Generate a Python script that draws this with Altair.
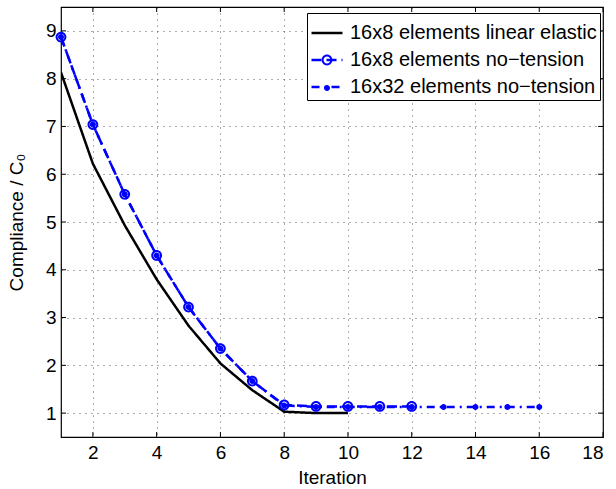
import altair as alt
import pandas as pd

series_names = ["16x8 elements linear elastic", "16x8 elements no\u2212tension", "16x32 elements no\u2212tension"]
marker_keys = ["m0", "m1", "m2"]

iter_le = [1, 2, 3, 4, 5, 6, 7, 8, 9, 10]
val_le = [8.13, 6.22, 4.93, 3.80, 2.83, 2.04, 1.48, 1.03, 1.00, 1.00]

iter_nt8 = [1, 2, 3, 4, 5, 6, 7, 8, 9, 10, 11, 12]
val_nt8 = [8.87, 7.04, 5.58, 4.30, 3.22, 2.35, 1.67, 1.17, 1.14, 1.14, 1.14, 1.14]

iter_nt32 = [1, 2, 3, 4, 5, 6, 7, 8, 9, 10, 11, 12, 13, 14, 15, 16]
val_nt32 = [8.87, 7.04, 5.58, 4.30, 3.22, 2.35, 1.67, 1.16, 1.13, 1.13, 1.13, 1.13, 1.13, 1.13, 1.13, 1.13]

x_ticks = [2, 4, 6, 8, 10, 12, 14, 16, 18]
y_ticks = [1, 2, 3, 4, 5, 6, 7, 8, 9]

rows = []
for it, v in zip(iter_le, val_le):
    rows.append({"iter": it, "val": v, "series": series_names[0], "marker": marker_keys[0]})
for it, v in zip(iter_nt8, val_nt8):
    rows.append({"iter": it, "val": v, "series": series_names[1], "marker": marker_keys[1]})
for it, v in zip(iter_nt32, val_nt32):
    rows.append({"iter": it, "val": v, "series": series_names[2], "marker": marker_keys[2]})
df = pd.DataFrame(rows)
xt_df = pd.DataFrame({"t": x_ticks})
yt_df = pd.DataFrame({"t": y_ticks})

FONT = "Liberation Sans"
BLUE = "#0000ff"
W, H = 542, 430
SYM_W = 31
LEG_PAD = 3
LEG_X = 246
LEG_Y = 6
TICK = 5
SYM_SIZE = SYM_W * SYM_W
U = SYM_W / 2.0  # pixels per path unit


def circle_path(r_px, sweep):
    r = r_px / U
    return "M{0:.4f},0A{0:.4f},{0:.4f},0,1,{1},{2:.4f},0A{0:.4f},{0:.4f},0,1,{1},{0:.4f},0Z".format(r, sweep, -r)


RING = circle_path(5.4, 1) + circle_path(3.4, 0)
DOT = circle_path(3.0, 1)
NONE = "M0,0Z"

xscale = alt.Scale(domain=[1, 18], nice=False, zero=False)
yscale = alt.Scale(domain=[0.5, 9.5], nice=False, zero=False)

xenc = alt.X("iter:Q", scale=xscale,
             axis=alt.Axis(values=x_ticks, title="Iteration", grid=True, ticks=False,
                           labelPadding=6, titlePadding=6, domain=False))
yenc = alt.Y("val:Q", scale=yscale,
             axis=alt.Axis(values=y_ticks, title="Compliance / C\u2080", grid=True, ticks=False,
                           labelPadding=5, titlePadding=19, domain=False))

legend_common = dict(title=None, orient="none", legendX=LEG_X, legendY=LEG_Y,
                     padding=LEG_PAD, labelFont=FONT, labelFontSize=20,
                     symbolSize=SYM_SIZE, symbolStrokeWidth=2.5,
                     rowPadding=0, labelOffset=6, labelLimit=400)

lines = alt.Chart(df).mark_line(strokeWidth=2.5, clip=True).encode(
    x=xenc,
    y=yenc,
    color=alt.Color("series:N",
                    scale=alt.Scale(domain=series_names, range=["#000000", BLUE, BLUE]),
                    legend=alt.Legend(fillColor="white", strokeColor="#000000",
                                      labelColor="#000000", symbolType="stroke",
                                      **legend_common)),
    strokeDash=alt.StrokeDash("series:N",
                              scale=alt.Scale(domain=series_names,
                                              range=[[1, 0], [10, 5], [8, 5, 2, 5]]),
                              legend=None),
    order=alt.Order("iter:Q"),
)

points = alt.Chart(df).transform_filter(
    alt.datum.marker != marker_keys[0]
).mark_point(filled=True, color=BLUE, opacity=1, strokeWidth=0, size=SYM_SIZE).encode(
    x=alt.X("iter:Q", scale=xscale),
    y=alt.Y("val:Q", scale=yscale),
    shape=alt.Shape("marker:N",
                    scale=alt.Scale(domain=marker_keys, range=[NONE, RING, DOT]),
                    legend=alt.Legend(labelOpacity=0, symbolFillColor=BLUE,
                                      symbolStrokeColor="transparent",
                                      labelExpr="'16x32 elements no\u2212tension'",
                                      **legend_common)),
)

xt_bottom = alt.Chart(xt_df).mark_rule(color="#000000", strokeWidth=1).encode(
    x=alt.X("t:Q", scale=xscale), y=alt.value(H), y2=alt.value(H - TICK))
xt_top = alt.Chart(xt_df).mark_rule(color="#000000", strokeWidth=1).encode(
    x=alt.X("t:Q", scale=xscale), y=alt.value(0), y2=alt.value(TICK))
yt_left = alt.Chart(yt_df).mark_rule(color="#000000", strokeWidth=1).encode(
    y=alt.Y("t:Q", scale=yscale), x=alt.value(0), x2=alt.value(TICK))
yt_right = alt.Chart(yt_df).mark_rule(color="#000000", strokeWidth=1).encode(
    y=alt.Y("t:Q", scale=yscale), x=alt.value(W), x2=alt.value(W - TICK))

chart = alt.layer(lines, points, xt_bottom, xt_top, yt_left, yt_right).properties(
    width=W, height=H,
    autosize=alt.AutoSizeParams(type="none"),
    padding={"left": 61, "top": 7, "right": 13, "bottom": 52},
    background="white",
).configure_view(
    stroke="#000000", strokeWidth=1.2
).configure_axis(
    labelFont=FONT, labelFontSize=19, labelColor="#000000",
    titleFont=FONT, titleFontSize=19, titleColor="#000000", titleFontWeight="normal",
    gridColor="#333333", gridDash=[1, 5], gridWidth=1, gridOpacity=0.8,
)

chart.save("out.html", embed_options={"renderer": "svg", "actions": False})
